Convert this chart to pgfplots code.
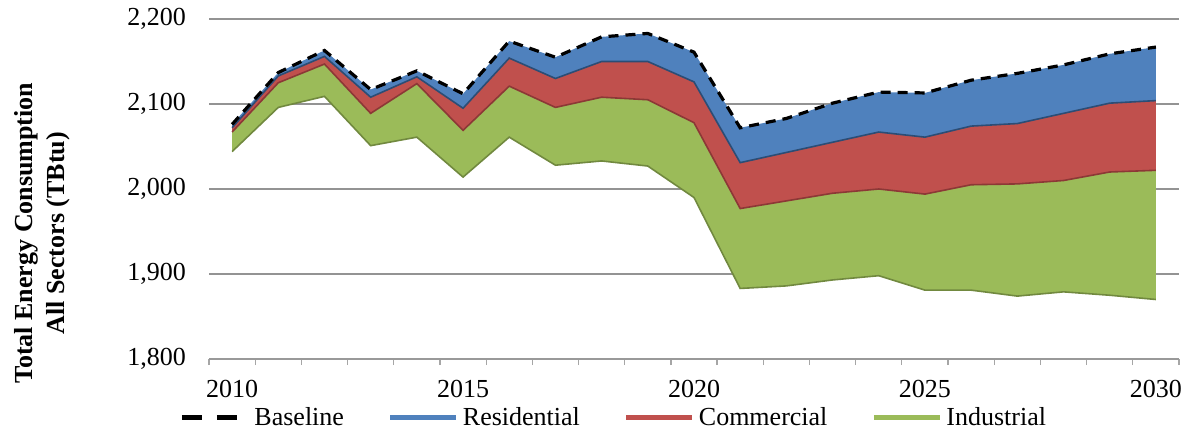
\documentclass[border=0pt]{standalone}
\usepackage{fontspec}
\setmainfont{Liberation Serif}
\usepackage{pgfplots}
\pgfplotsset{compat=1.18}
\usepgfplotslibrary{fillbetween}
\usepackage{pgfplotstable}
\definecolor{resblue}{HTML}{4F81BD}
\definecolor{comred}{HTML}{C0504D}
\definecolor{indgreen}{HTML}{9BBB59}
\definecolor{resedge}{HTML}{2C4D75}
\definecolor{comedge}{HTML}{8C3836}
\definecolor{indedge}{HTML}{71893F}
\pgfplotstableread{
year base res com ind
2010 2076 2072 2067 2044
2011 2137 2133 2125 2096
2012 2163 2156 2147 2109
2013 2117 2108 2089 2051
2014 2139 2132 2124 2061
2015 2112 2095 2069 2014
2016 2174 2154 2121 2061
2017 2155 2130 2096 2028
2018 2179 2150 2108 2033
2019 2183 2150 2105 2027
2020 2161 2126 2078 1990
2021 2072 2031 1977 1883
2022 2083 2043 1986 1886
2023 2101 2055 1995 1893
2024 2114 2067 2000 1898
2025 2113 2061 1994 1881
2026 2128 2074 2005 1881
2027 2136 2077 2006 1874
2028 2146 2089 2010 1879
2029 2159 2101 2020 1875
2030 2167 2104 2022 1870
}\datatable
\begin{document}
\begin{tikzpicture}[font=\fontsize{13bp}{15.6bp}\selectfont]
\begin{axis}[
  anchor=south west, at={(0,0)},
  scale only axis,
  width=485bp, height=170bp,
  xmin=2009.5, xmax=2030.5,
  ymin=1800, ymax=2200,
  xtick={2010,2015,2020,2025,2030},
  minor xtick={2009.5,2010.5,...,2030.5},
  ytick={1800,1900,2000,2100,2200},
  major tick length=0pt,
  minor tick length=3bp,
  tick align=outside,
  minor tick style={gray!70, line width=0.6bp},
  axis lines*=left,
  x axis line style={gray!80, line width=0.7bp, -},
  y axis line style={draw=none},
  ymajorgrids,
  grid style={gray!85, line width=0.6bp},
  xticklabel style={yshift=-7bp},
  yticklabel style={anchor=east, xshift=-8bp},
  /pgf/number format/assume math mode=true,
  /pgf/number format/1000 sep={,},
  xticklabel={\pgfmathprintnumber[1000 sep={}]{\tick}},
  ylabel={\bfseries Total Energy Consumption\\\bfseries All Sectors (TBtu)},
  ylabel style={align=center, at={(axis description cs:-0.172,0.37)}, anchor=center, font=\fontsize{13bp}{16bp}\selectfont},
  legend columns=4,
  legend style={draw=none, fill=none, at={(axis description cs:-0.037,-0.1735)}, anchor=west,
     /tikz/every even column/.append style={column sep=20bp},
     legend cell align=left, font=\fontsize{13bp}{15.6bp}\selectfont},
  legend image code/.code={\draw[#1] (0bp,0bp) -- (33bp,0bp);},
]
\addplot[draw=none, name path=A, forget plot] table[x=year, y=base] {\datatable};
\addplot[draw=none, name path=B, forget plot] table[x=year, y=res] {\datatable};
\addplot[draw=none, name path=C, forget plot] table[x=year, y=com] {\datatable};
\addplot[draw=none, name path=D, forget plot] table[x=year, y=ind] {\datatable};
\addplot[fill=resblue, draw=none, forget plot] fill between[of=A and B];
\addplot[fill=comred, draw=none, forget plot] fill between[of=B and C];
\addplot[fill=indgreen, draw=none, forget plot] fill between[of=C and D];
\addplot[indedge, line width=0.8bp, forget plot] table[x=year, y=ind] {\datatable};
\addplot[comedge, line width=0.8bp, forget plot] table[x=year, y=com] {\datatable};
\addplot[resedge, line width=0.8bp, forget plot] table[x=year, y=res] {\datatable};
\addplot[black, line width=1.6bp, dash pattern=on 5bp off 3.5bp, forget plot] table[x=year, y=base] {\datatable};
\addlegendimage{black, line width=2.5bp, dash pattern=on 10bp off 7.5bp}
\addlegendentry{Baseline}
\addlegendimage{resblue, line width=2.5bp}
\addlegendentry{Residential}
\addlegendimage{comred, line width=2.5bp}
\addlegendentry{Commercial}
\addlegendimage{indgreen, line width=2.5bp}
\addlegendentry{Industrial}
\end{axis}
\pgfresetboundingbox
\path (-104.5bp,-38.5bp) rectangle (492bp,179.5bp);
\end{tikzpicture}
\end{document}
